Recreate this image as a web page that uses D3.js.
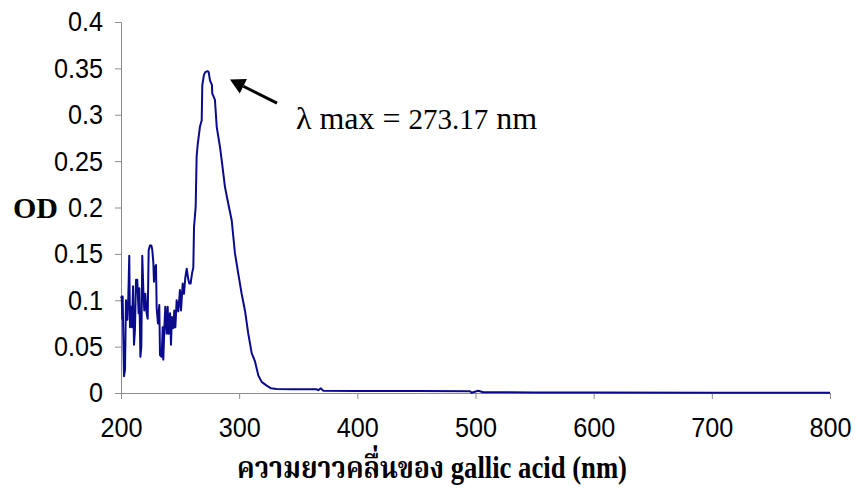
<!DOCTYPE html>
<html>
<head>
<meta charset="utf-8">
<script src="https://cdn.jsdelivr.net/npm/d3@7"></script>
<style>
  html, body { margin: 0; padding: 0; background: #fff; }
  svg { display: block; }
</style>
</head>
<body>
<svg id="chart" width="857" height="490"></svg>
<script>
// Wavelength (nm) and optical density
const wavelengths = [
  200.0, 200.6, 201.1, 201.4, 202.0, 202.5, 203.4, 204.2, 205.4, 206.2,
  207.0, 207.6, 208.5, 209.3, 210.2, 211.0, 211.8, 212.7, 213.8, 214.9,
  215.5, 216.4, 217.2, 218.0, 218.9, 219.7, 220.6, 221.7, 222.6, 223.4,
  224.5, 225.7, 226.5, 227.4, 227.9, 229.0, 229.6, 230.2, 231.3, 232.4,
  233.0, 234.4, 235.3, 235.8, 236.7, 237.5, 238.6, 239.5, 240.3, 241.5,
  242.3, 243.1, 244.3, 245.1, 246.0, 247.1, 248.5, 249.9, 250.8, 252.2,
  253.3, 254.4, 255.6, 257.0, 257.8, 258.9, 260.1, 261.2, 261.8, 263.2,
  264.0, 265.0, 266.8, 268.3, 268.8, 270.2, 271.3, 273.2, 274.2, 275.3,
  277.0, 277.2, 279.5, 281.0, 283.8, 285.2, 288.0, 290.8, 293.7, 296.4,
  299.2, 302.1, 304.9, 307.7, 310.6, 313.4, 316.2, 319.0, 323.3, 327.0,
  331.7, 345.0, 365.6, 366.9, 369.0, 371.2, 400.0, 450.0, 495.3, 496.7,
  502.3, 506.5, 550.0, 600.0, 700.0, 800.0
];
const odValues = [
  0.102, 0.104, 0.080, 0.104, 0.057, 0.018, 0.025, 0.100, 0.079, 0.104,
  0.148, 0.071, 0.093, 0.071, 0.115, 0.052, 0.068, 0.122, 0.122, 0.086,
  0.113, 0.039, 0.050, 0.148, 0.111, 0.089, 0.107, 0.086, 0.080, 0.154,
  0.159, 0.159, 0.154, 0.140, 0.120, 0.136, 0.138, 0.091, 0.075, 0.095,
  0.041, 0.039, 0.071, 0.036, 0.071, 0.093, 0.064, 0.093, 0.064, 0.086,
  0.052, 0.082, 0.070, 0.089, 0.071, 0.100, 0.088, 0.111, 0.089, 0.118,
  0.107, 0.124, 0.134, 0.122, 0.118, 0.118, 0.129, 0.135, 0.179, 0.201,
  0.255, 0.269, 0.287, 0.294, 0.332, 0.343, 0.346, 0.347, 0.346, 0.337,
  0.332, 0.323, 0.316, 0.287, 0.265, 0.251, 0.222, 0.204, 0.186, 0.151,
  0.129, 0.107, 0.089, 0.064, 0.043, 0.034, 0.019, 0.012, 0.008, 0.005,
  0.0043, 0.004, 0.004, 0.003, 0.005, 0.0025, 0.0022, 0.0021, 0.002, 0.0003,
  0.0025, 0.0008, 0.0006, 0.0005, 0.0004, 0.0004
];
const xTicks = [200, 300, 400, 500, 600, 700, 800];
const yTicks = [0, 0.05, 0.1, 0.15, 0.2, 0.25, 0.3, 0.35, 0.4];
const xTitle = "ความยาวคลื่นของ gallic acid (nm)";
const yTitle = "OD";
const annotationLabel = ["λ max = ", "273.17", " nm"];

const data = wavelengths.map((w, i) => ({ x: w, y: odValues[i] }));

const svg = d3.select("#chart");
const margin = { left: 121, top: 22, right: 27, bottom: 97 };
const W = 857, H = 490;

const x = d3.scaleLinear().domain([200, 800]).range([margin.left, W - margin.right]);
const y = d3.scaleLinear().domain([0, 0.4]).range([H - margin.bottom, margin.top]);

const axisColor = "#8c8c8c";

// X axis
const gx = svg.append("g")
  .attr("transform", `translate(0,${y(0)})`)
  .call(d3.axisBottom(x).tickValues(xTicks).tickSize(6).tickPadding(18).tickFormat(d3.format("d")));
// Y axis
const gy = svg.append("g")
  .attr("transform", `translate(${x(200)},0)`)
  .call(d3.axisLeft(y).tickValues(yTicks).tickSize(6).tickPadding(12)
    .tickFormat(d => d === 0 ? "0" : String(+d.toFixed(2))));

[gx, gy].forEach(g => {
  g.select(".domain").attr("stroke", axisColor).attr("stroke-width", 1);
  g.selectAll(".tick line").attr("stroke", axisColor).attr("stroke-width", 1);
  g.selectAll(".tick text")
    .attr("fill", "#000")
    .style("font-family", "'Liberation Sans', Arial, sans-serif")
    .style("font-size", "28px");
});
gx.selectAll(".tick text").attr("dy", "0.71em");
// slightly narrow, tall glyphs like the reference
[gx, gy].forEach(g => g.selectAll(".tick text").each(function () {
  const len = this.getComputedTextLength();
  d3.select(this).attr("textLength", len * 0.9).attr("lengthAdjust", "spacingAndGlyphs");
}));

// Line
svg.append("path")
  .datum(data)
  .attr("fill", "none")
  .attr("stroke", "#0a0a8c")
  .attr("stroke-width", 2)
  .attr("stroke-linejoin", "round")
  .attr("d", d3.line().x(d => x(d.x)).y(d => y(d.y)));

// Axis titles
svg.append("text")
  .attr("x", 13).attr("y", y(0.2) + 10)
  .style("font-family", "'Liberation Serif', 'Times New Roman', serif")
  .style("font-weight", "bold")
  .style("font-size", "30px")
  .text(yTitle);

svg.append("text")
  .attr("x", 237).attr("y", 478)
  .attr("textLength", 390).attr("lengthAdjust", "spacingAndGlyphs")
  .style("font-family", "'Liberation Serif', 'Noto Serif Thai', 'Noto Sans Thai', serif")
  .style("font-weight", "bold")
  .style("font-size", "31px")
  .text(xTitle);

// Annotation arrow
const tip = [x(292.2), y(0.338)];
const tail = [x(332), y(0.3125)];
const ang = Math.atan2(tail[1] - tip[1], tail[0] - tip[0]);
const headLen = 15, headW = 8;
const bx = tip[0] + headLen * Math.cos(ang), by = tip[1] + headLen * Math.sin(ang);
svg.append("line")
  .attr("x1", tail[0]).attr("y1", tail[1]).attr("x2", bx).attr("y2", by)
  .attr("stroke", "#000").attr("stroke-width", 3);
svg.append("path")
  .attr("d", `M${tip[0]},${tip[1]} L${bx - headW * Math.sin(ang)},${by + headW * Math.cos(ang)} L${bx + headW * Math.sin(ang)},${by - headW * Math.cos(ang)} Z`)
  .attr("fill", "#000");

const ann = svg.append("text")
  .attr("x", x(348)).attr("y", y(0.2845))
  .style("font-family", "'Liberation Serif', 'Times New Roman', serif")
  .style("font-size", "32px");
ann.append("tspan").text(annotationLabel[0]);
ann.append("tspan").style("font-size", "29px").text(annotationLabel[1]);
ann.append("tspan").text(annotationLabel[2]);
</script>
</body>
</html>
